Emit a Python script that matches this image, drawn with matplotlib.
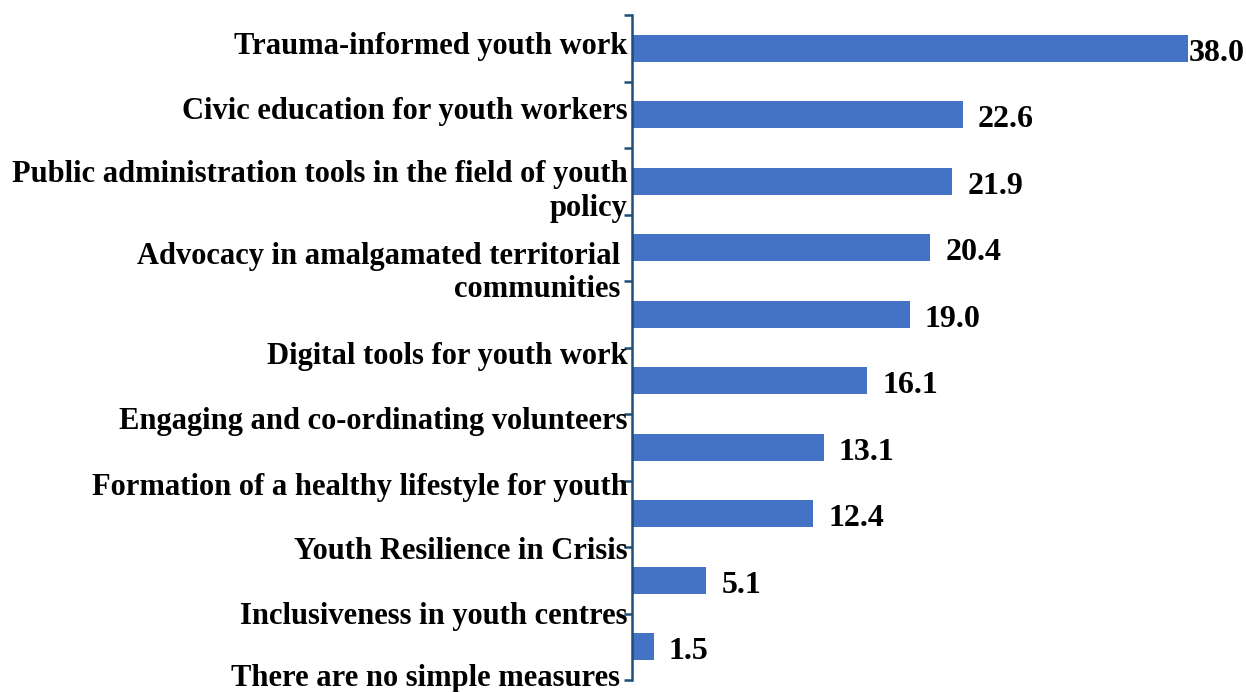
import matplotlib.pyplot as plt

# Survey topics and share of responses (%)
topics = [
    "Trauma-informed youth work",
    "Civic education for youth workers",
    "Public administration tools in the field of youth\npolicy",
    "Advocacy in amalgamated territorial \ncommunities ",
    "Digital tools for youth work",
    "Engaging and co-ordinating volunteers",
    "Formation of a healthy lifestyle for youth",
    "Youth Resilience in Crisis",
    "Inclusiveness in youth centres",
    "There are no simple measures ",
]
values = [38.0, 22.6, 21.9, 20.4, 19.0, 16.1, 13.1, 12.4, 5.1, 1.5]

# where each category label sits along the axis (they drift from the bars)
label_pos = [-0.03, 0.95, 2.16, 3.38, 4.63, 5.61, 6.61, 7.57, 8.55, 9.47]

plt.rcParams['font.family'] = ['Liberation Serif', 'DejaVu Serif']

fig = plt.figure(figsize=(12.46, 6.92), dpi=100)
ax = fig.add_axes([0.507, 0.0173, 0.47, 0.961])

pos = list(range(len(values)))
ax.barh(pos, values, height=0.4, color='#4472C4')

for i, v in enumerate(values):
    gap = 1 if v == max(values) else 15
    ax.annotate(f"{v:.1f}", xy=(v, i), xytext=(gap, -5), textcoords='offset pixels',
                ha='left', va='center', fontsize=23, fontweight='bold',
                annotation_clip=False)

for txt, y in zip(topics, label_pos):
    ax.annotate(txt, xy=(0, y), xycoords=('axes fraction', 'data'),
                xytext=(-4, 0), textcoords='offset pixels',
                ha='right', va='center', ma='right', fontsize=22,
                fontweight='bold', linespacing=1.22, annotation_clip=False)

ax.set_xlim(0, 40)
ax.set_ylim(9.5, -0.5)
ax.set_yticks([p - 0.5 for p in range(len(values) + 1)])
ax.set_yticklabels([])
ax.set_xticks([])
ax.tick_params(axis='y', length=6, width=1.8, color='#1F4E79')
for s in ['top', 'right', 'bottom']:
    ax.spines[s].set_visible(False)
ax.spines['left'].set_color('#1F4E79')
ax.spines['left'].set_linewidth(1.8)

fig.savefig('out.png', dpi=100)
